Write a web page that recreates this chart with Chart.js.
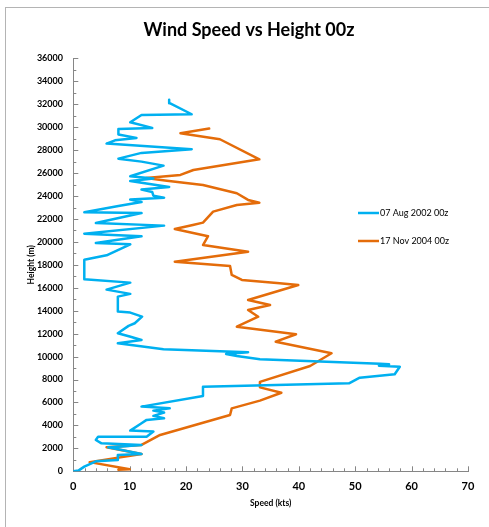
<!DOCTYPE html>
<html><head><meta charset="utf-8">
<script src="https://cdn.jsdelivr.net/npm/chart.js@4.4.1/dist/chart.umd.min.js"></script>
<style>html,body{margin:0;padding:0;background:#fff;}#wrap{width:489px;height:527px;}</style>
</head><body><div id="wrap"><canvas id="c" width="489" height="527"></canvas></div>
<script>
// ---- data ----
const seriesLabels = ['07 Aug 2002 00z', '17 Nov 2004 00z'];
const seriesColors = ['#00b0f0', '#e46c0a'];

// 07 Aug 2002 00z : speed (kts) and height (m), bottom to top
const aug2002Speed = [0,0.9,1.95,4.0,7.9,7.9,12.1,6.2,7.9,12.1,5.0,4.0,4.4,13.0,14.2,10.1,12.1,13.0,16.1,14.2,16.1,14.2,17.1,12.1,23.0,23.0,48.9,50.8,57.0,57.9,54.2,56.0,54.4,33.1,29.0,27.1,31.0,16.0,7.9,12.1,10.0,7.9,9.8,10.9,12.2,10.1,7.9,7.9,10.1,5.9,10.1,1.95,1.95,5.9,10.1,4.0,12.1,1.95,16.1,4.0,12.1,1.95,8.0,12.1,10.1,16.1,14.2,14.0,12.1,17.0,10.1,14.2,10.1,16.0,12.1,8.0,12.1,21.0,5.9,7.4,11.2,8.0,8.0,14.0,10.1,12.1,21.0,17.1,17.0];
const aug2002Height = [0,60,410,870,990,1420,1510,2090,2150,2300,2440,2730,3020,3020,3460,3550,4190,4480,4620,4830,5120,5290,5490,5640,6570,7380,7670,8160,8460,9120,9200,9330,9370,9770,10050,10230,10380,10640,11160,11450,11750,12040,12680,12910,13490,13840,13930,15230,15470,15840,16450,16740,18450,18830,19790,19910,20490,20720,21420,21650,22520,22580,23130,23480,23690,23860,24030,24350,24560,24790,25310,25520,25720,26650,27000,27260,27760,28080,28570,28860,29070,29360,29850,29940,30430,31070,31130,32100,32400];

// 17 Nov 2004 00z : speed (kts) and height (m), bottom to top
const nov2004Speed = [8.0,10.0,2.9,12.1,5.9,12.1,15.4,27.8,28.1,33.1,36.9,33.1,33.1,42.0,45.8,35.9,39.5,29.0,32.8,31.0,34.9,31.0,39.9,36.6,29.9,28.1,27.8,18.0,31.0,23.0,23.9,18.0,21.2,23.0,24.8,29.0,33.0,31.0,29.0,23.0,16.6,12.9,19.0,21.3,33.0,26.0,19.0,24.1];
const nov2004Height = [130,180,800,1500,2090,2300,3170,4910,5490,6160,6850,7320,7800,9180,10290,11300,11950,12610,13480,14070,14500,14940,16240,16390,16680,17120,17900,18280,19150,19730,20500,21130,21480,21680,22640,23220,23420,23660,24240,24960,25340,25580,25840,26270,27200,28950,29470,29880];

const xTicks = [0,10,20,30,40,50,60,70];
const yTicks = [0,2000,4000,6000,8000,10000,12000,14000,16000,18000,20000,22000,24000,26000,28000,30000,32000,34000,36000];
const chartTitle = 'Wind Speed vs Height 00z';
const xTitle = 'Speed (kts)';
const yTitle = 'Height (m)';

// ---- build ----
function pts(xs, ys){ return xs.map((v,i)=>({x:v, y:ys[i]})); }
const FONT = 'Lato, "Open Sans", sans-serif';
const AXIS = '#868686';

const decor = {
  id: 'decor',
  beforeDraw(chart){
    const ctx = chart.ctx;
    ctx.save();
    ctx.fillStyle = '#fff';
    ctx.fillRect(0,0,chart.width,chart.height);
    ctx.strokeStyle = '#b4b4b4';
    ctx.lineWidth = 1;
    ctx.strokeRect(5.5, 7.5, 800, 800);
    ctx.restore();
  },
  beforeDatasetsDraw(chart){
    const {ctx, scales:{x, y}} = chart;
    ctx.save();
    ctx.strokeStyle = AXIS; ctx.lineWidth = 1;
    const yMin = yTicks[0], yMax = yTicks[yTicks.length-1];
    const yStep = (yTicks[1]-yTicks[0])/2;
    for (let v = yMin; v <= yMax; v += yStep){
      const py = Math.round(y.getPixelForValue(v)) + 0.5;
      const len = ((v - yMin) % (yStep*2) === 0) ? 5 : 3;
      ctx.beginPath(); ctx.moveTo(x.left, py); ctx.lineTo(x.left + len, py); ctx.stroke();
    }
    const xMin = xTicks[0], xMax = xTicks[xTicks.length-1];
    const xStep = (xTicks[1]-xTicks[0])/5;
    for (let v = xMin; v <= xMax + 1e-6; v += xStep){
      const px = Math.round(x.getPixelForValue(v)) + 0.5;
      const major = Math.abs(((v - xMin) / (xStep*5)) - Math.round((v - xMin)/(xStep*5))) < 1e-6;
      const len = major ? 5 : 3;
      ctx.beginPath(); ctx.moveTo(px, y.bottom); ctx.lineTo(px, y.bottom - len); ctx.stroke();
    }
    ctx.restore();
  },
  afterDraw(chart){
    const ctx = chart.ctx;
    ctx.save();
    const pos = [[358, 213], [358, 241]];
    chart.data.datasets.forEach((ds, i) => {
      const [lx, ly] = pos[i];
      ctx.strokeStyle = ds.borderColor; ctx.lineWidth = 2.5;
      ctx.beginPath(); ctx.moveTo(lx, ly); ctx.lineTo(lx + 21, ly); ctx.stroke();
      ctx.fillStyle = '#000';
      ctx.font = '9px ' + FONT;
      ctx.textBaseline = 'middle'; ctx.textAlign = 'left';
      ctx.fillText(ds.label, lx + 22, ly);
    });
    ctx.restore();
  }
};

new Chart(document.getElementById('c'), {
  type: 'scatter',
  data: {
    datasets: [
      { label: seriesLabels[0], data: pts(aug2002Speed, aug2002Height), showLine: true,
        borderColor: seriesColors[0], backgroundColor: seriesColors[0], borderWidth: 2.5,
        pointRadius: 0, tension: 0, borderJoinStyle: 'round', borderCapStyle: 'round' },
      { label: seriesLabels[1], data: pts(nov2004Speed, nov2004Height), showLine: true,
        borderColor: seriesColors[1], backgroundColor: seriesColors[1], borderWidth: 2.5,
        pointRadius: 0, tension: 0, borderJoinStyle: 'round', borderCapStyle: 'round' }
    ]
  },
  options: {
    responsive: false,
    animation: false,
    devicePixelRatio: 1,
    layout: { padding: { top: 0, left: 30, right: 21, bottom: 0 } },
    plugins: {
      legend: { display: false },
      tooltip: { enabled: false },
      title: { display: true, text: chartTitle, color: '#000',
        font: { family: FONT, size: 18, weight: 'bold' },
        padding: { top: 19.2, bottom: 17.6 } }
    },
    scales: {
      x: {
        type: 'linear', min: xTicks[0], max: xTicks[xTicks.length-1],
        afterBuildTicks: (s) => { s.ticks = xTicks.map(v => ({value: v})); },
        afterFit: (s) => { s.height = 55.7; },
        grid: { display: true, drawOnChartArea: false, drawTicks: false },
        border: { display: true, color: AXIS, width: 1 },
        ticks: { color: '#000', padding: 8.8, font: { family: FONT, size: 11, weight: 'bold' },
          callback: (v) => String(v) },
        title: { display: true, text: xTitle, color: '#000',
          font: { family: FONT, size: 8.5, weight: 'bold' }, padding: { top: 0, bottom: 18.6 } }
      },
      y: {
        type: 'linear', min: yTicks[0], max: yTicks[yTicks.length-1],
        afterBuildTicks: (s) => { s.ticks = yTicks.map(v => ({value: v})); },
        afterFit: (s) => { s.width = 43.3; },
        grid: { display: true, drawOnChartArea: false, drawTicks: false },
        border: { display: true, color: AXIS, width: 1 },
        ticks: { color: '#000', padding: 10.3, font: { family: FONT, size: 9, weight: 'bold' },
          callback: (v) => String(v) },
        title: { display: true, text: yTitle, color: '#000',
          font: { family: FONT, size: 8.5, weight: 'bold' }, padding: { top: -3.6, bottom: 0 } }
      }
    }
  },
  plugins: [decor]
});
</script></body></html>
